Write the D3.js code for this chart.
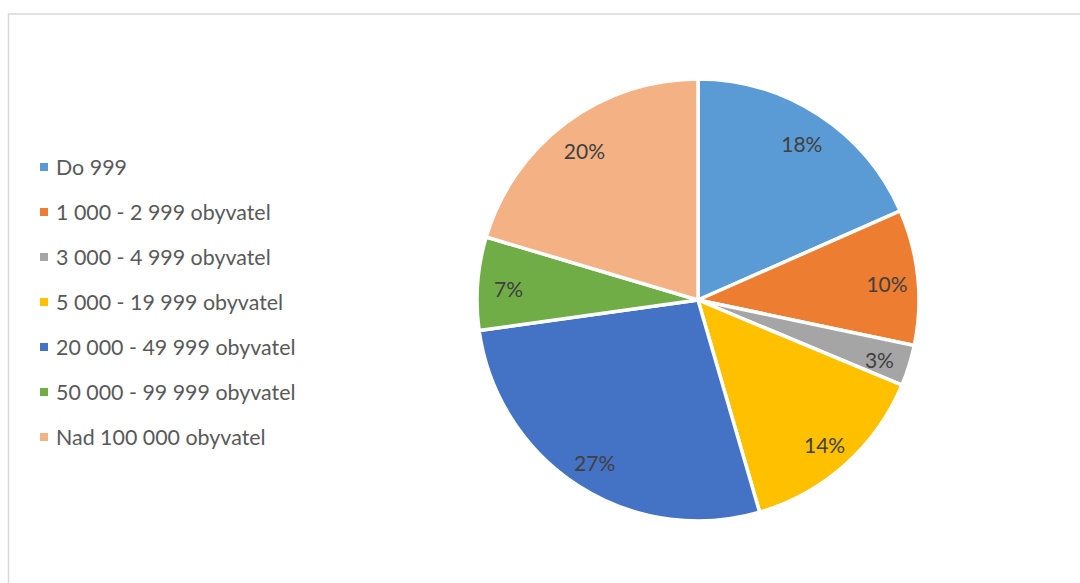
<!DOCTYPE html>
<html>
<head>
<meta charset="utf-8">
<script src="https://cdn.jsdelivr.net/npm/d3@7/dist/d3.min.js"></script>
<style>
  html, body { margin: 0; padding: 0; background: #fff; }
  svg { display: block; }
</style>
</head>
<body>
<svg id="chart" width="1080" height="583"></svg>
<script>
// Share of municipalities by population size group (%)
const categories = [
  "Do 999",
  "1 000 - 2 999 obyvatel",
  "3 000 - 4 999 obyvatel",
  "5 000 - 19 999 obyvatel",
  "20 000 - 49 999 obyvatel",
  "50 000 - 99 999 obyvatel",
  "Nad 100 000 obyvatel"
];
const shares = [18.4, 9.9, 3.0, 14.2, 27.3, 6.8, 20.4];
const colors = ["#5B9BD5", "#ED7D31", "#A5A5A5", "#FFC000", "#4472C4", "#70AD47", "#F4B183"];

const svg = d3.select("#chart");
const W = 1080, H = 583;

// chart area frame (left and top edges visible)
svg.append("rect")
  .attr("x", 8.5).attr("y", 14)
  .attr("width", W + 20).attr("height", H + 20)
  .attr("fill", "#fff")
  .attr("stroke", "#d9d9d9")
  .attr("stroke-width", 1.5);

const cx = 698, cy = 300, R = 221;
const total = d3.sum(shares);

const pie = d3.pie().sort(null).value(d => d);
const arcs = pie(shares);
const arc = d3.arc().innerRadius(0).outerRadius(R);
const labelArc = d3.arc().innerRadius(190).outerRadius(190);

const color = d3.scaleOrdinal().domain(d3.range(categories.length)).range(colors);

const g = svg.append("g").attr("transform", `translate(${cx},${cy})`);

g.selectAll("path.slice")
  .data(arcs)
  .join("path")
  .attr("class", "slice")
  .attr("d", arc)
  .attr("fill", (d, i) => color(i))
  .attr("stroke", "#fff")
  .attr("stroke-width", 3.5)
  .attr("stroke-linejoin", "round");

g.selectAll("text.pct")
  .data(arcs)
  .join("text")
  .attr("class", "pct")
  .attr("transform", d => {
    const [x, y] = labelArc.centroid(d);
    return `translate(${x},${y + 3})`;
  })
  .attr("text-anchor", "middle")
  .attr("dominant-baseline", "central")
  .attr("font-family", "Lato, 'Open Sans', sans-serif")
  .attr("font-size", 21)
  .attr("fill", "#404040")
  .text(d => Math.round(d.value / total * 100) + "%");

// legend
const legend = svg.append("g").attr("transform", "translate(40,167)");
const rows = legend.selectAll("g.item")
  .data(categories)
  .join("g")
  .attr("class", "item")
  .attr("transform", (d, i) => `translate(0,${i * 45})`);

rows.append("rect")
  .attr("x", 0).attr("y", -4)
  .attr("width", 8).attr("height", 8)
  .attr("fill", (d, i) => color(i));

rows.append("text")
  .attr("x", 16).attr("y", 0)
  .attr("dominant-baseline", "central")
  .attr("font-family", "Lato, 'Open Sans', sans-serif")
  .attr("font-size", 21.4)
  .attr("fill", "#595959")
  .text(d => d);
</script>
</body>
</html>
